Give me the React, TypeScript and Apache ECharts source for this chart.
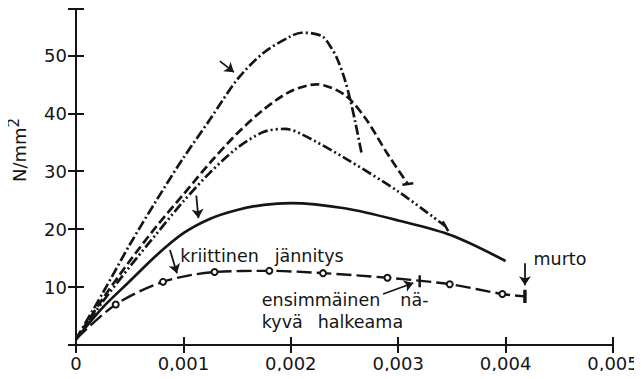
import React, { useEffect, useRef } from "react";
import * as echarts from "echarts";

// ---- axis ticks ----
const xTickLabels = ["0", "0,001", "0,002", "0,003", "0,004", "0,005"];
const yTickValues = [10, 20, 30, 40, 50];

// ---- series (strain, stress N/mm2) ----
const dashDotX = [0, 0.00025, 0.0005, 0.00075, 0.001, 0.00125, 0.0015, 0.00175, 0.002, 0.0021, 0.0022, 0.0023, 0.00237, 0.00243, 0.0025, 0.00255, 0.0026, 0.00266];
const dashDotY = [1, 9, 17.3, 25, 32.3, 39, 45.8, 50.5, 53.3, 53.9, 53.8, 53.2, 51.5, 49.5, 46, 42.6, 38.5, 33];

const dashedX = [0, 0.00025, 0.0005, 0.00075, 0.001, 0.00125, 0.0015, 0.00175, 0.002, 0.00224, 0.0025, 0.0027, 0.0029, 0.00309];
const dashedY = [1, 8, 14.5, 20.5, 26, 31.5, 36.5, 40.7, 43.8, 45, 43.2, 39, 33, 27.8];

const dashDotDotX = [0, 0.00025, 0.0005, 0.00075, 0.001, 0.00125, 0.0015, 0.00175, 0.00195, 0.0021, 0.0025, 0.003, 0.00344];
const dashDotDotY = [1, 7.5, 13.5, 19.2, 24.8, 29.8, 34, 36.8, 37.3, 36.4, 32.3, 26.5, 20.5];

const solidX = [0, 0.00025, 0.0005, 0.00075, 0.001, 0.00125, 0.0015, 0.00175, 0.002, 0.0025, 0.003, 0.0035, 0.004];
const solidY = [1, 6.5, 11, 15.5, 19.3, 21.8, 23.3, 24.2, 24.5, 23.6, 21.5, 18.9, 14.5];

const circleX = [0.00037, 0.00081, 0.00129, 0.0018, 0.0023, 0.0029, 0.00348, 0.00397];
const circleY = [7.0, 10.9, 12.6, 12.8, 12.4, 11.6, 10.5, 8.8];
const circleStart = [0, 1];
const circleEnd = [0.00418, 8.4];
const crackPoint = [0.0032, 11.0];

// ---- annotations (data coordinates) ----
const arrows = [
  [[0.00134, 49.0], [0.00147, 47.1]],
  [[0.00112, 25.8], [0.00114, 21.9]],
  [[0.000875, 16.4], [0.00094, 12.4]],
  [[0.00418, 14.1], [0.00418, 10.3]],
  [[0.00286, 8.8], [0.00314, 10.7]],
];
const labels = [
  { text: "kriittinen", at: [0.00097, 15.4] },
  { text: "jännitys", at: [0.00185, 15.4] },
  { text: "murto", at: [0.00426, 14.8] },
  { text: "ensimmäinen", at: [0.00173, 7.75] },
  { text: "nä-", at: [0.00302, 7.75] },
  { text: "kyvä", at: [0.00173, 4.0] },
  { text: "halkeama", at: [0.00225, 4.0] },
];

const zip = (xs: number[], ys: number[]) => xs.map((x, i) => [x, ys[i]]);

const INK = "#151515";
const FONT = "DejaVu Sans";

export default function App() {
  const ref = useRef<HTMLDivElement>(null);

  useEffect(() => {
    if (!ref.current) return;
    const chart = echarts.init(ref.current, null, { renderer: "svg" });

    const axisCommon = {
      type: "value" as const,
      axisLine: { show: true, lineStyle: { color: INK, width: 2 } },
      axisTick: { show: true, inside: true, length: 8, lineStyle: { color: INK, width: 2 } },
      splitLine: { show: false },
    };

    const line = (data: any[], type: any, extra: any = {}) => ({
      type: "line",
      data,
      symbol: "none",
      smooth: 0.3,
      lineStyle: { color: INK, width: 2.7, type, cap: "butt" },
      itemStyle: { color: INK },
      ...extra,
    });

    const endBar = (pt: number[], size: number[], rot = 0) => ({
      value: pt,
      symbol: "rect",
      symbolSize: size,
      symbolRotate: rot,
      itemStyle: { color: INK },
    });

    const circleData: any[] = [
      { value: circleStart, symbol: "none" },
      ...zip(circleX, circleY).map((p) => ({ value: p })),
      endBar(circleEnd, [2.5, 10]),
    ];

    const dashedData: any[] = zip(dashedX, dashedY);
    dashedData[dashedData.length - 1] = endBar(dashedData[dashedData.length - 1], [11, 2.5], 8);
    const ddData: any[] = zip(dashDotDotX, dashDotDotY);
    ddData[ddData.length - 1] = endBar(ddData[ddData.length - 1], [2.5, 11], 30);

    chart.setOption({
      animation: false,
      backgroundColor: "#ffffff",
      grid: { left: 76, right: 29, top: 9, bottom: 34 },
      xAxis: [
        {
          ...axisCommon,
          position: "bottom",
          min: 0,
          max: 0.005,
          interval: 0.001,
          axisLabel: {
            color: INK,
            fontFamily: FONT,
            fontSize: 18,
            margin: 9,
            formatter: (v: number) => xTickLabels[Math.round(v * 1000)] ?? "",
          },
        },
        {
          ...axisCommon,
          position: "top",
          min: 0,
          max: 0.005,
          interval: 0.001,
          axisLabel: { show: false },
        },
      ],
      yAxis: [
        {
          ...axisCommon,
          position: "left",
          min: 0,
          max: 58,
          interval: 10,
          axisLabel: {
            color: INK,
            fontFamily: FONT,
            fontSize: 18,
            margin: 9,
            formatter: (v: number) => (yTickValues.includes(v) ? String(v) : ""),
          },
        },
        {
          ...axisCommon,
          position: "right",
          min: 0,
          max: 58,
          interval: 10,
          axisLabel: { show: false },
        },
      ],
      series: [
        line(zip(dashDotX, dashDotY), [10, 3, 2, 3]),
        line(dashedData, [9, 4]),
        line(ddData, [10, 3, 2, 3, 2, 3]),
        line(zip(solidX, solidY), "solid", { lineStyle: { color: INK, width: 2.7, type: "solid" } }),
        {
          type: "line",
          data: circleData,
          smooth: 0.3,
          symbol: "emptyCircle",
          symbolSize: 6,
          lineStyle: { color: INK, width: 2.4, type: [15, 5], cap: "butt" },
          itemStyle: { color: INK, borderColor: INK, borderWidth: 1.6 },
          markPoint: {
            silent: true,
            data: [
              {
                coord: crackPoint,
                symbol: "rect",
                symbolSize: [2.5, 12],
                itemStyle: { color: INK },
                label: { show: false },
              },
            ],
          },
          markLine: {
            silent: true,
            symbol: ["none", "arrow"],
            symbolSize: 9,
            label: { show: false },
            lineStyle: { color: INK, width: 1.8, type: "solid" },
            data: arrows.map(([a, b]) => [{ coord: a }, { coord: b }]),
          },
        },
      ],
    });

    const toPx = (p: number[]) =>
      chart.convertToPixel({ xAxisIndex: 0, yAxisIndex: 0 }, p) as number[];

    chart.setOption({
      graphic: [
        ...labels.map((l) => {
          const [x, y] = toPx(l.at);
          return {
            type: "text",
            x,
            y,
            silent: true,
            style: {
              text: l.text,
              fill: INK,
              fontFamily: FONT,
              fontSize: 17.5,
              align: "left",
              verticalAlign: "middle",
            },
          };
        }),
        {
          type: "text",
          x: 19,
          y: 150,
          rotation: Math.PI / 2,
          silent: true,
          style: {
            text: "N/mm{s|2}",
            fill: INK,
            fontFamily: FONT,
            fontSize: 18,
            align: "center",
            verticalAlign: "middle",
            rich: {
              s: { fontSize: 15, fontFamily: FONT, fill: INK, padding: [0, 0, 10, 0] },
            },
          },
        },
      ],
    });

    return () => chart.dispose();
  }, []);

  return <div ref={ref} style={{ width: 642, height: 379, margin: -8 }} />;
}
